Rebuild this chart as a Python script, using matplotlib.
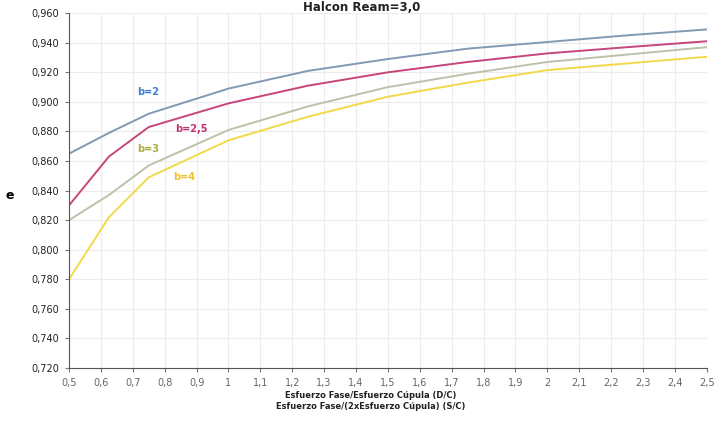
import matplotlib
matplotlib.use("Agg")
import matplotlib.pyplot as plt

# x = esfuerzo fase / esfuerzo cupula
x_vals = [0.5, 0.625, 0.75, 1.0, 1.25, 1.5, 1.75, 2.0, 2.25, 2.5]

e_b2 = [0.865, 0.879, 0.892, 0.909, 0.921, 0.929, 0.936, 0.9405, 0.945, 0.949]
e_b25 = [0.830, 0.863, 0.883, 0.899, 0.911, 0.920, 0.927, 0.9328, 0.937, 0.941]
e_b3 = [0.820, 0.837, 0.857, 0.881, 0.897, 0.910, 0.919, 0.927, 0.932, 0.937]
e_b4 = [0.780, 0.822, 0.849, 0.874, 0.890, 0.9035, 0.913, 0.9215, 0.926, 0.9305]

series_names = ["b=2", "b=2,5", "b=3", "b=4"]
x_ticks = [0.5, 0.6, 0.7, 0.8, 0.9, 1.0, 1.1, 1.2, 1.3, 1.4, 1.5, 1.6, 1.7,
           1.8, 1.9, 2.0, 2.1, 2.2, 2.3, 2.4, 2.5]
y_ticks = [0.72, 0.74, 0.76, 0.78, 0.80, 0.82, 0.84, 0.86, 0.88, 0.90,
           0.92, 0.94, 0.96]

line_cols = ["#8199b4", "#c8457c", "#bcc2a8", "#f2d94a"]
label_cols = ["#3d7fd3", "#c23470", "#a9ae3c", "#f0c22a"]
label_pos = [(0.715, 0.907), (0.834, 0.882), (0.715, 0.868), (0.825, 0.849)]

fig = plt.figure(figsize=(7.19, 4.25), dpi=100)
ax = fig.add_axes([0.096, 0.134, 0.887, 0.835])

all_series = [e_b2, e_b25, e_b3, e_b4]
for i in range(len(all_series)):
    ax.plot(x_vals, all_series[i], color=line_cols[i], lw=1.4)
    ax.text(label_pos[i][0], label_pos[i][1], series_names[i],
            color=label_cols[i], fontsize=7, fontweight="bold", va="center")

ax.set_xlim(0.5, 2.5)
ax.set_ylim(0.72, 0.96)
ax.set_xticks(x_ticks)
ax.set_xticklabels([("%g" % t).replace(".", ",") for t in x_ticks],
                   fontsize=7, color="#666666")
ax.set_yticks(y_ticks)
ax.set_yticklabels([("%.3f" % t).replace(".", ",") for t in y_ticks],
                   fontsize=7, color="#222222")
ax.grid(True, color="#ececec", lw=0.8)
ax.set_axisbelow(True)
for s in ["top", "right"]:
    ax.spines[s].set_visible(False)
for s in ["left", "bottom"]:
    ax.spines[s].set_color("#555555")
ax.tick_params(length=3, color="#777777", pad=4)

fig.text(0.516, 0.063, "Esfuerzo Fase/Esfuerzo Cúpula (D/C)", ha="center",
         fontsize=6, fontweight="bold", color="#222222")
fig.text(0.516, 0.038, "Esfuerzo Fase/(2xEsfuerzo Cúpula) (S/C)", ha="center",
         fontsize=6, fontweight="bold", color="#222222")
fig.text(0.014, 0.54, "e", fontsize=9, fontweight="bold", ha="center",
         va="center")
fig.text(0.503, 0.998, "Halcon Ream=3,0", ha="center", va="top",
         fontsize=8.5, fontweight="bold", color="#222222")

fig.savefig("out.png", dpi=100)
